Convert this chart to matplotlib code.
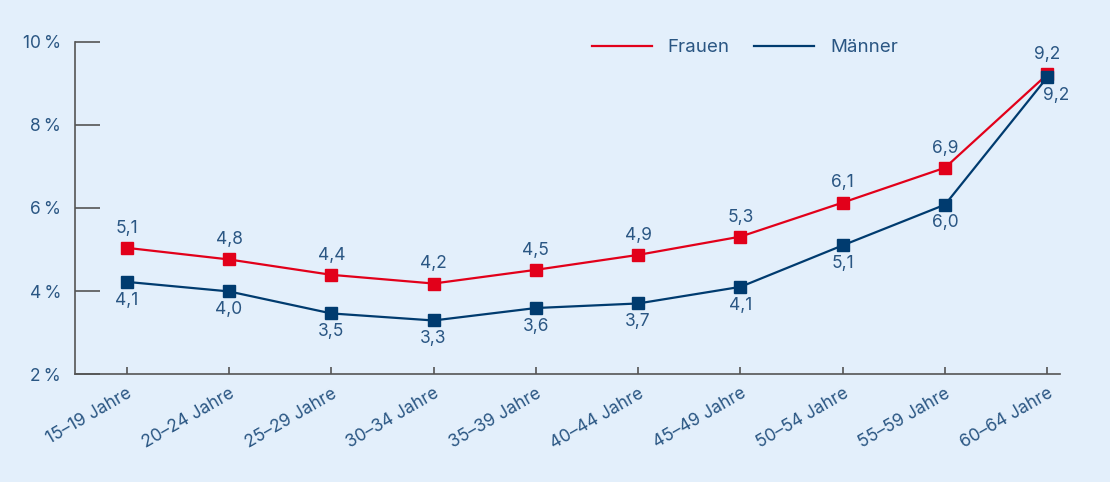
import matplotlib.pyplot as plt

# Altersgruppen und Quoten (in %)
altersgruppen = ["15–19 Jahre", "20–24 Jahre", "25–29 Jahre", "30–34 Jahre", "35–39 Jahre",
                 "40–44 Jahre", "45–49 Jahre", "50–54 Jahre", "55–59 Jahre", "60–64 Jahre"]
frauen = [5.04, 4.76, 4.39, 4.18, 4.51, 4.87, 5.31, 6.13, 6.97, 9.22]
maenner = [4.22, 3.99, 3.46, 3.29, 3.59, 3.70, 4.10, 5.10, 6.08, 9.15]
frauen_text = ["5,1", "4,8", "4,4", "4,2", "4,5", "4,9", "5,3", "6,1", "6,9", "9,2"]
maenner_text = ["4,1", "4,0", "3,5", "3,3", "3,6", "3,7", "4,1", "5,1", "6,0", "9,2"]
y_ticks = [2, 4, 6, 8, 10]

bg = "#e3effb"
txt = "#2a5683"
rot = "#e2001a"
blau = "#003b6f"

plt.rcParams['font.family'] = ['Inter', 'DejaVu Sans']

fig = plt.figure(figsize=(11.1, 4.82), dpi=100, facecolor=bg)
ax = fig.add_axes([0.0676, 0.224, 0.887, 0.689])
ax.set_facecolor(bg)

x = list(range(len(altersgruppen)))
ax.plot(x, frauen, color=rot, lw=1.6, marker='s', ms=8.5, label="Frauen")
ax.plot(x, maenner, color=blau, lw=1.6, marker='s', ms=8.5, label="Männer")

for i in x:
    ax.annotate(frauen_text[i], (i, frauen[i]), xytext=(0, 8), textcoords='offset points',
                ha='center', va='bottom', fontsize=12.5, color=txt)
    dx = 6 if i == len(x) - 1 else 0
    ax.annotate(maenner_text[i], (i, maenner[i]), xytext=(dx, -7), textcoords='offset points',
                ha='center', va='top', fontsize=12.5, color=txt)

ax.set_xlim(-0.505, 9.12)
ax.set_ylim(2, 10)
ax.set_yticks(y_ticks)
ax.set_yticklabels([f"{t}\u202f%" for t in y_ticks])
ax.set_xticks(x)
ax.set_xticklabels(altersgruppen, rotation=30, ha='right', rotation_mode='anchor')

for s in ['top', 'right']:
    ax.spines[s].set_visible(False)
for s in ['left', 'bottom']:
    ax.spines[s].set_color('#555555')
    ax.spines[s].set_linewidth(1.2)

ax.tick_params(axis='y', direction='in', length=18, width=1.2, color='#555555',
               labelcolor=txt, labelsize=12.5, pad=10)
ax.tick_params(axis='x', direction='in', length=5, width=1.2, color='#555555',
               labelcolor=txt, labelsize=12.5, pad=8)

leg = ax.legend(loc='upper left', bbox_to_anchor=(0.525, 1.008), ncol=2, frameon=False,
                fontsize=13.5, handlelength=3.2, handletextpad=0.85, columnspacing=1.3,
                borderpad=0, borderaxespad=0, labelcolor=txt)
for h in leg.legend_handles:
    h.set_marker('')

fig.savefig("out.png", dpi=100, facecolor=bg)
